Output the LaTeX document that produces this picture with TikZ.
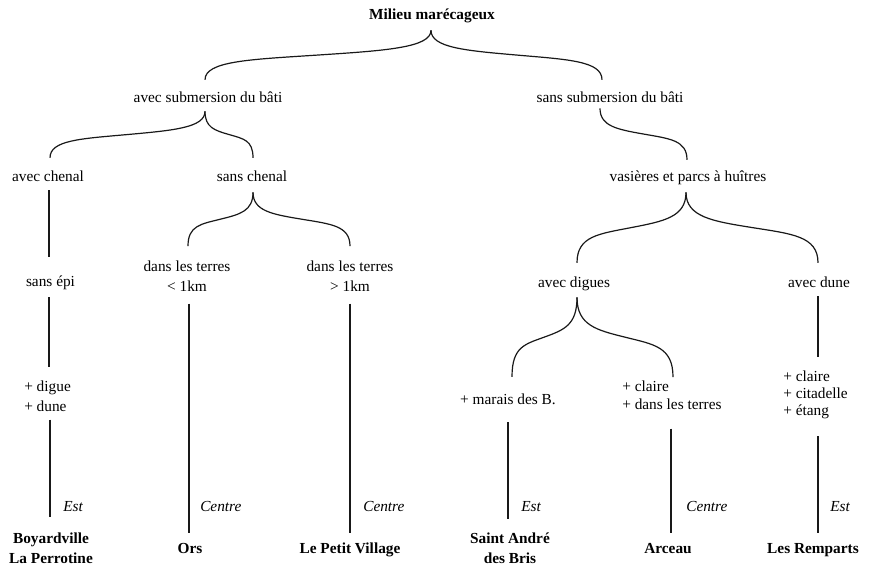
\documentclass[tikz,border=0pt]{standalone}
\usepackage{fontspec}
\setmainfont{Liberation Serif}
\usetikzlibrary{calc}
\newcommand\topstrut{\rule{0pt}{8pt}}
\newcommand\botstrut{\rule[-2.5pt]{0pt}{2.5pt}}
\newcommand\halfbrace[2]{%
  \draw[link] let \p1=#1, \p2=#2,
    \p3=($(\p1)!0.2!(\p2)$), \p4=($(\p1)!0.35!(\p2)$), \p5=($(\p1)!0.41!(\p2)$),
    \p6=($(\p1)!0.5!(\p2)$), \p7=($(\p1)!0.8!(\p2)$), \p8=($(\p1)!0.59!(\p2)$),
    \p9=($(\p1)!0.62!(\p2)$)
  in (\p1) .. controls (\x1,\y4) and (\x3,\y5) .. (\p6)
           .. controls (\x7,\y8) and (\x2,\y9) .. (\p2);}
\begin{document}
\begin{tikzpicture}[x=0.75pt,y=-0.75pt,
  link/.style={line width=0.9pt, black!90},
  txt/.style={inner sep=0pt, font=\fontsize{11.5}{15}\selectfont},
  one/.style={txt, text height=8pt, text depth=2.5pt, anchor=base},
  bold/.style={one, font=\fontsize{11.5}{15}\selectfont\bfseries},
  multi/.style={txt, align=center, anchor=north},
  multil/.style={txt, align=left, anchor=north west},
  leafm/.style={multi, font=\fontsize{11.5}{15}\selectfont\bfseries},
  region/.style={one, font=\fontsize{11.5}{15}\selectfont\itshape, anchor=base west}]
\useasboundingbox (0,0) rectangle (870,568);

% nodes
\node[bold] (root) at (432,19) {Milieu marécageux};
\node[one] (asub) at (208,102) {avec submersion du bâti};
\node[one] (ssub) at (610,102) {sans submersion du bâti};
\node[one] (avc) at (48,181) {avec chenal};
\node[one] (sch) at (252,181) {sans chenal};
\node[one] (vas) at (688,181) {vasières et parcs à huîtres};
\node[one] (sepi) at (50.5,286) {sans épi};
\node[one] (avd) at (574,287) {avec digues};
\node[one] (avdune) at (819,287) {avec dune};
\node[multi] (dlt1) at (187,260.33) {\topstrut dans les terres\\ < 1km\botstrut};
\node[multi] (dlt2) at (350,260.33) {\topstrut dans les terres\\ > 1km\botstrut};
\node[multil] (digue) at (24,380.33) {\topstrut + digue\\ + dune\botstrut};
\node[one] (marais) at (508,404) {+ marais des B.};
\node[multil, font=\fontsize{11.5}{13.5}\selectfont] (claire2) at (622,380.33) {\topstrut + claire\\ + dans les terres\botstrut};
\node[multil, font=\fontsize{11.5}{13}\selectfont] (claire3) at (783,370.33) {\topstrut + claire\\ + citadelle\\ + étang\botstrut};

\node[region] (r1) at (63,511) {Est};
\node[region] (r2) at (200,511) {Centre};
\node[region] (r3) at (363,511) {Centre};
\node[region] (r4) at (521,511) {Est};
\node[region] (r5) at (686,511) {Centre};
\node[region] (r6) at (830,511) {Est};

\node[leafm] (boy) at (51,532.33) {\topstrut Boyardville\\ La Perrotine\botstrut};
\node[bold] (ors) at (190,553) {Ors};
\node[bold] (lpv) at (350,553) {Le Petit Village};
\node[leafm] (sab) at (510,532.33) {\topstrut Saint André\\ des Bris\botstrut};
\node[bold] (arc) at (668,553) {Arceau};
\node[bold] (rem) at (813,553) {Les Remparts};

% braces
\halfbrace{($(root.south)+(-1,7.7)$)}{($(asub.north)+(-3,-11.3)$)}
\halfbrace{($(root.south)+(-1,7.7)$)}{($(ssub.north)+(-8,-11.3)$)}
\halfbrace{($(asub.south)+(-3,5.7)$)}{($(avc.north)+(2,-12.3)$)}
\halfbrace{($(asub.south)+(-3,5.7)$)}{($(sch.north)+(1,-12.3)$)}
\halfbrace{($(sch.south)+(1,7.7)$)}{($(dlt1.north)+(1,-14.3)$)}
\halfbrace{($(sch.south)+(1,7.7)$)}{($(dlt2.north)+(0,-14.3)$)}
\halfbrace{($(ssub.south)+(-10,2.7)$)}{($(vas.north)+(-1,-10.3)$)}
\halfbrace{($(vas.south)+(-2,7.7)$)}{($(avd.north)+(3,-13.3)$)}
\halfbrace{($(vas.south)+(-2,7.7)$)}{($(avdune.north)+(-1,-13.3)$)}
\halfbrace{($(avd.south)+(3,6.7)$)}{($(marais.north)+(4,-16.3)$)}
\halfbrace{($(avd.south)+(3,6.7)$)}{($(claire2.north west)+(51,-3.3)$)}

% straight links
\draw[link] ($(avc.south)+(1,5.7)$) -- ($(sepi.north)+(-1.5,-18.3)$);
\draw[link] ($(sepi.south)+(-1.5,7.7)$) -- ($(digue.north west)+(25,-13.3)$);
\draw[link] ($(digue.south west)+(26,4.7)$) -- ($(boy.north)+(-1,-15.3)$);
\draw[link] ($(dlt1.south)+(2,8.7)$) -- ($(ors.north)+(-1,-9.3)$);
\draw[link] ($(dlt2.south)+(0,8.7)$) -- ($(lpv.north)+(0,-9.3)$);
\draw[link] ($(marais.south)+(0,14.7)$) -- ($(sab.north)+(-2,-13.3)$);
\draw[link] ($(claire2.south west)+(49,15.7)$) -- ($(arc.north)+(3,-9.3)$);
\draw[link] ($(avdune.south)+(-1,5.7)$) -- ($(claire3.north west)+(35,-13.3)$);
\draw[link] ($(claire3.south west)+(35,16.7)$) -- ($(rem.north)+(5,-9.3)$);
\end{tikzpicture}
\end{document}
